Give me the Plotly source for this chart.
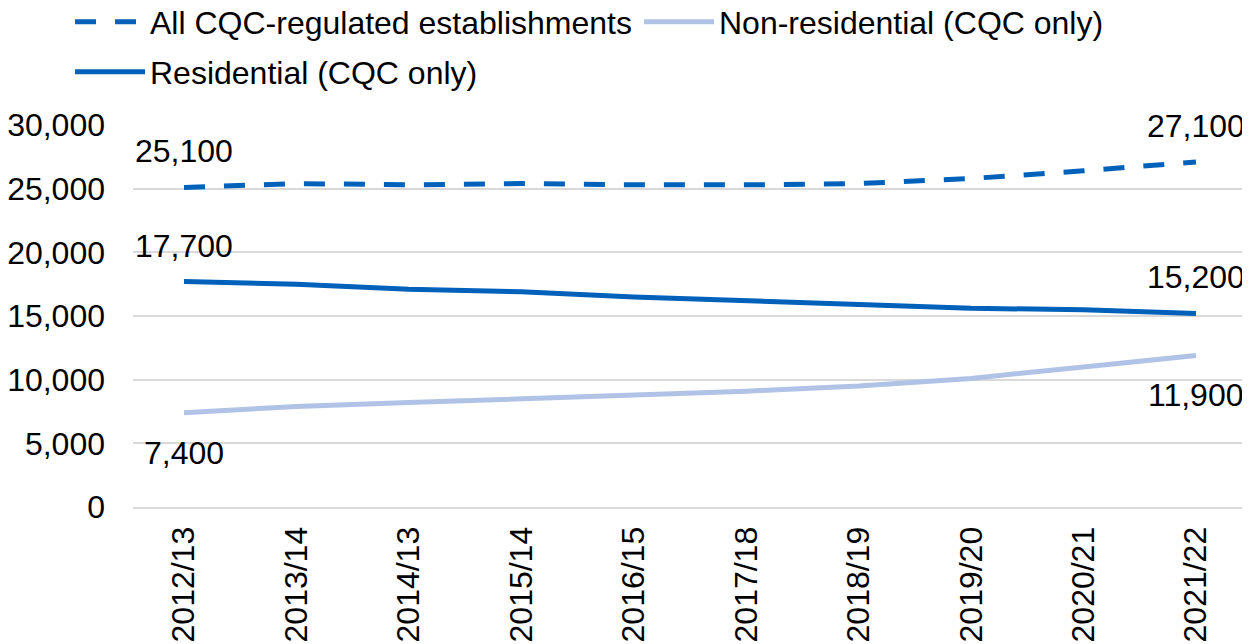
import plotly.graph_objects as go

categories = ["2012/13", "2013/14", "2014/13", "2015/14", "2016/15",
              "2017/18", "2018/19", "2019/20", "2020/21", "2021/22"]
all_cqc = [25100, 25400, 25300, 25400, 25300, 25300, 25400, 25800, 26400, 27100]
non_residential = [7400, 7900, 8200, 8500, 8800, 9100, 9500, 10100, 11000, 11900]
residential = [17700, 17500, 17100, 16900, 16500, 16200, 15900, 15600, 15500, 15200]

y_ticks = [0, 5000, 10000, 15000, 20000, 25000, 30000]

DARK = "#0061BA"
LIGHT = "#B0C3E6"
FONT = "Liberation Sans, Arial, sans-serif"
FS = 32

W, H = 1242, 636  # page body has an 8px margin

fig = go.Figure()
fig.add_trace(go.Scatter(x=categories, y=all_cqc, mode="lines",
                         name="All CQC-regulated establishments",
                         line=dict(color=DARK, width=5, dash="21px,19px"),
                         legend="legend4"))
fig.add_trace(go.Scatter(x=categories, y=non_residential, mode="lines",
                         name="Non-residential (CQC only)",
                         line=dict(color=LIGHT, width=5),
                         legend="legend2"))
fig.add_trace(go.Scatter(x=categories, y=residential, mode="lines",
                         name="Residential (CQC only)",
                         line=dict(color=DARK, width=5),
                         legend="legend3"))

annotations = []
for series, above in [(all_cqc, True), (residential, True), (non_residential, False)]:
    for idx in (0, len(categories) - 1):
        annotations.append(dict(
            x=categories[idx], y=series[idx], xref="x", yref="y",
            text=f"{series[idx]:,}", showarrow=False,
            yanchor="bottom" if above else "top",
            yshift=16 if above else -20,
            font=dict(family=FONT, size=FS, color="#000000")))

def leg(xpx, ycenter_px):
    return dict(orientation="h", xref="container", yref="container",
                x=xpx / W, y=1 - ycenter_px / H, xanchor="left", yanchor="middle",
                itemwidth=70, font=dict(family=FONT, size=FS, color="#000000"),
                bgcolor="rgba(0,0,0,0)")

fig.update_layout(
    width=W, height=H,
    margin=dict(l=125, r=3, t=117, b=137, autoexpand=False),
    plot_bgcolor="white", paper_bgcolor="white",
    font=dict(family=FONT, size=FS, color="#000000"),
    annotations=annotations,
    legend4=leg(62, 14),
    legend2=leg(631, 14),
    legend3=leg(62, 64),
    xaxis=dict(type="category", tickangle=-90, showgrid=False,
               ticks="", ticklabelstandoff=5, automargin=False,
               showline=True, linecolor="#D9D9D9", linewidth=2,
               tickfont=dict(family=FONT, size=FS, color="#000000")),
    yaxis=dict(range=[0, 30000], tickvals=y_ticks,
               ticktext=[f"{v:,}" for v in y_ticks],
               showgrid=True, gridcolor="#D9D9D9", gridwidth=2,
               zeroline=False, ticks="", ticklabelstandoff=27, automargin=False,
               tickfont=dict(family=FONT, size=FS, color="#000000")),
)

fig.write_html("out.html")
